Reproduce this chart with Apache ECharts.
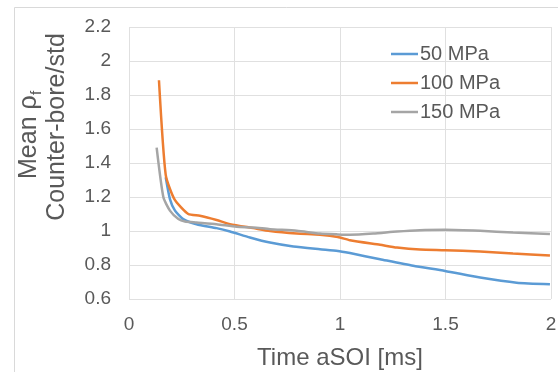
<!DOCTYPE html>
<html><head><meta charset="utf-8">
<script src="https://cdn.jsdelivr.net/npm/echarts@6/dist/echarts.min.js"></script>
<style>html,body{margin:0;padding:0;background:#fff}#c{width:558px;height:372px}</style>
</head><body><div id="c"></div>
<script>
var seriesNames = ['50 MPa', '100 MPa', '150 MPa'];
var t50  = [0.174, 0.194, 0.218, 0.257, 0.32, 0.415, 0.479, 0.573, 0.668, 0.779, 0.905, 0.99, 1.047, 1.19, 1.347, 1.498, 1.664, 1.837, 1.995];
var v50  = [1.316, 1.188, 1.12, 1.07, 1.04, 1.017, 0.997, 0.962, 0.932, 0.909, 0.893, 0.883, 0.87, 0.834, 0.795, 0.765, 0.726, 0.696, 0.687];
var t100 = [0.142, 0.174, 0.215, 0.281, 0.336, 0.415, 0.479, 0.589, 0.668, 0.795, 0.905, 0.99, 1.047, 1.19, 1.27, 1.379, 1.498, 1.664, 1.82, 1.995];
var v100 = [1.887, 1.33, 1.188, 1.1, 1.09, 1.065, 1.04, 1.017, 1.0, 0.985, 0.978, 0.965, 0.946, 0.919, 0.903, 0.891, 0.887, 0.879, 0.867, 0.856];
var t150 = [0.131, 0.163, 0.194, 0.234, 0.265, 0.32, 0.415, 0.51, 0.589, 0.668, 0.795, 0.905, 0.99, 1.047, 1.158, 1.27, 1.379, 1.498, 1.664, 1.82, 1.995];
var v150 = [1.49, 1.198, 1.12, 1.07, 1.056, 1.05, 1.04, 1.025, 1.021, 1.011, 1.001, 0.985, 0.98, 0.978, 0.985, 0.997, 1.005, 1.007, 1.001, 0.991, 0.982];
var xTicks = {min: 0, max: 2, interval: 0.5};
var yTicks = {min: 0.6, max: 2.2, interval: 0.2};
var colors = ['#5B9BD5', '#ED7D31', '#A5A5A5'];

function pairs(t, v) { return t.map(function (x, i) { return [x, v[i]]; }); }
var font = 'Liberation Sans, Arial, sans-serif';
var txt = '#595959';

var chart = echarts.init(document.getElementById('c'), null, {renderer: 'canvas'});
chart.setOption({
  animation: false,
  backgroundColor: '#fff',
  color: colors,
  grid: {left: 129, right: 7, top: 27, bottom: 73, containLabel: false, outerBoundsMode: 'none'},
  legend: {
    orient: 'vertical', left: 386, top: 39, icon: 'rect', itemWidth: 27, itemHeight: 2.5,
    itemGap: 9,
    textStyle: {color: txt, fontSize: 20, fontFamily: font, padding: [0, 0, 0, -3]},
    data: seriesNames
  },
  xAxis: {
    type: 'value', min: xTicks.min, max: xTicks.max, interval: xTicks.interval,
    name: 'Time aSOI [ms]', nameLocation: 'middle', nameGap: 47, nameMoveOverlap: false,
    nameTextStyle: {color: txt, fontSize: 24, fontFamily: font},
    axisLine: {show: false}, axisTick: {show: false},
    axisLabel: {color: txt, fontSize: 19, fontFamily: font, margin: 16},
    splitLine: {show: true, lineStyle: {color: '#e0e0e0', width: 1}}
  },
  yAxis: {
    type: 'value', min: yTicks.min, max: yTicks.max, interval: yTicks.interval,
    axisLine: {show: false}, axisTick: {show: false},
    axisLabel: {color: txt, fontSize: 19, fontFamily: font, margin: 18},
    splitLine: {show: true, lineStyle: {color: '#e0e0e0', width: 1}}
  },
  graphic: [
    {type: 'rect', left: 12, top: 5, shape: {x: 0, y: 0, width: 550, height: 365}, style: {fill: 'none', stroke: '#d9d9d9', lineWidth: 1}, z: -1},
    {type: 'group', x: 29, y: 132, rotation: Math.PI / 2, children: [
      {type: 'text', x: -47, y: 0, style: {text: 'Mean ρ', fill: txt, font: '25px ' + font, textAlign: 'left', textVerticalAlign: 'middle'}},
      {type: 'text', x: 37, y: 8, style: {text: 'f', fill: txt, font: '15px ' + font, textAlign: 'left', textVerticalAlign: 'middle'}}
    ]},
    {type: 'text', x: 57, y: 127, rotation: Math.PI / 2, style: {text: 'Counter-bore/std', fill: txt, font: '25px ' + font, textAlign: 'center', textVerticalAlign: 'middle'}}
  ],
  series: [
    {name: seriesNames[0], type: 'line', data: pairs(t50, v50), showSymbol: false, symbol: 'none', lineStyle: {width: 2.5, color: colors[0]}, smooth: 0.2},
    {name: seriesNames[1], type: 'line', data: pairs(t100, v100), showSymbol: false, symbol: 'none', lineStyle: {width: 2.5, color: colors[1]}, smooth: 0.2},
    {name: seriesNames[2], type: 'line', data: pairs(t150, v150), showSymbol: false, symbol: 'none', lineStyle: {width: 2.5, color: colors[2]}, smooth: 0.2}
  ]
});
</script></body></html>
